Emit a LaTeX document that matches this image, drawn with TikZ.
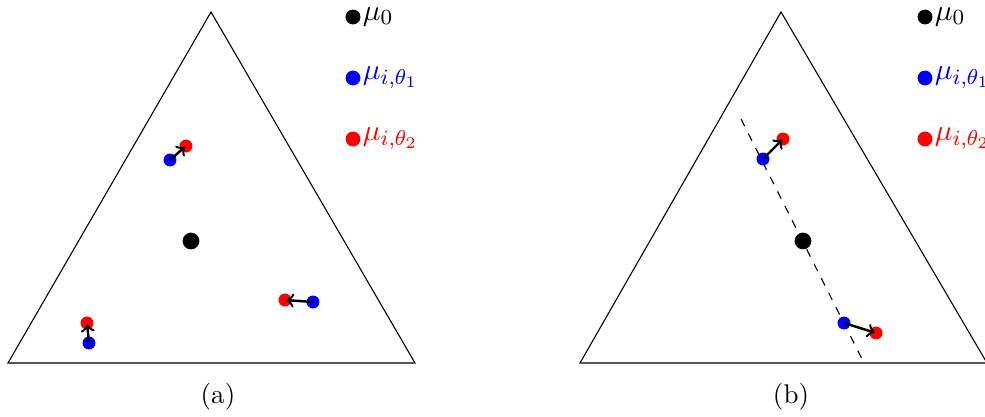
\documentclass[tikz,border=0pt]{standalone}
\usetikzlibrary{positioning}

\tikzset{
  meandot/.style={circle, fill=black, inner sep=0pt, minimum size=6.2pt},
  bluedot/.style={circle, fill=blue, inner sep=0pt, minimum size=4.8pt},
  reddot/.style={circle, fill=red, inner sep=0pt, minimum size=4.8pt},
  keydot/.style={circle, inner sep=0pt, minimum size=5.5pt},
  keytext/.style={inner sep=0pt, font=\fontsize{11.2}{13}\selectfont},
  shiftarrow/.style={->, line width=0.9pt, shorten >=0.5pt},
}

\begin{document}
\begin{tikzpicture}[x=0.37pt, y=-0.37pt]
    \clip (0,0) rectangle (985,417);

    % (a)
    \draw (8,363) coordinate (aL) -- (211,12) coordinate (aT) -- (415,363) coordinate (aR) -- cycle;
    \node[meandot] (a0) at (191,241) {};
    \node[bluedot] (ab1) at (170,160) {};
    \node[reddot]  (ar1) at (186,146) {};
    \node[bluedot] (ab2) at (89,343) {};
    \node[reddot]  (ar2) at (87,323) {};
    \node[bluedot] (ab3) at (313,302) {};
    \node[reddot]  (ar3) at (285,300) {};
    \draw[shiftarrow] (ab1.center) -- (ar1.center);
    \draw[shiftarrow] (ab2.center) -- (ar2.center);
    \draw[shiftarrow] (ab3.center) -- (ar3.center);
    \node[keydot, fill=black] (ak0) at (353,17) {};
    \node[keydot, fill=blue]  (ak1) at (353,78) {};
    \node[keydot, fill=red]   (ak2) at (353,139) {};
    \node[keytext, right=0.5pt of ak0] {$\mu_0$};
    \node[keytext, right=0.5pt of ak1, text=blue] {$\mu_{i,\theta_1}$};
    \node[keytext, right=0.5pt of ak2, text=red] {$\mu_{i,\theta_2}$};
    \node (acap) at (218,397) {(a)};

    % (b)
    \begin{scope}[shift={(572,0)}]
        \draw (8,363) coordinate (bL) -- (209,12) coordinate (bT) -- (415,363) coordinate (bR) -- cycle;
        \coordinate (bs) at (169,119);
        \coordinate (be) at (292,363);
        \draw[dashed] (bs) -- (be);
        \node[meandot] (b0) at (231,241) {};
        \node[bluedot] (bb1) at (191,159) {};
        \node[reddot]  (br1) at (211,139) {};
        \node[bluedot] (bb2) at (272,323) {};
        \node[reddot]  (br2) at (304,333) {};
        \draw[shiftarrow] (bb1.center) -- (br1.center);
        \draw[shiftarrow] (bb2.center) -- (br2.center);
        \node[keydot, fill=black] (bk0) at (353,17) {};
        \node[keydot, fill=blue]  (bk1) at (353,78) {};
        \node[keydot, fill=red]   (bk2) at (353,139) {};
        \node[keytext, right=0.5pt of bk0] {$\mu_0$};
        \node[keytext, right=0.5pt of bk1, text=blue] {$\mu_{i,\theta_1}$};
        \node[keytext, right=0.5pt of bk2, text=red] {$\mu_{i,\theta_2}$};
        \node (bcap) at (219,397) {(b)};
    \end{scope}
\end{tikzpicture}
\end{document}
